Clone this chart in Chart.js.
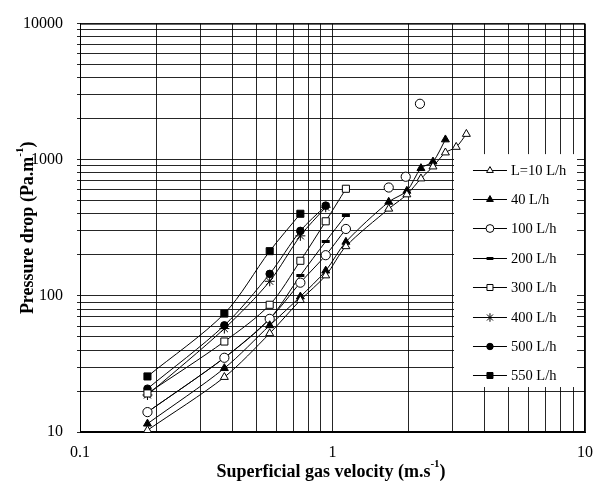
<!DOCTYPE html>
<html>
<head>
<meta charset="utf-8">
<script src="https://cdn.jsdelivr.net/npm/chart.js@4.4.1/dist/chart.umd.min.js"></script>
<style>
  html, body { margin: 0; padding: 0; background: #fff; }
  #wrap { width: 604px; height: 485px; }
</style>
</head>
<body>
<div id="wrap"><canvas id="dpChart" width="604" height="485"></canvas></div>
<script>
// Superficial gas velocity (m/s) and pressure drop (Pa/m) per liquid flow rate
const vel10 = [0.185, 0.373, 0.564, 0.746, 0.94, 1.13, 1.67, 1.97, 2.24, 2.5, 2.8, 3.09, 3.39];
const dp10  = [10.3, 25.3, 53, 93, 141, 231, 436, 555, 727, 890, 1128, 1240, 1544];

const vel40 = [0.185, 0.373, 0.564, 0.746, 0.94, 1.13, 1.67, 1.97, 2.24, 2.5, 2.8];
const dp40  = [11.5, 29.4, 60.7, 98.7, 153, 249, 490, 590, 866, 968, 1407];

// last three 100 L/h points are not joined by a line (null = gap)
const vel100 = [0.185, 0.373, 0.564, 0.746, 0.94, 1.13, 1.4, 1.67, 1.8, 1.95, 2.1, 2.22];
const dp100  = [14.0, 35.1, 67.8, 125, 199, 310, null, 625, null, 750, null, 2576];

const vel200 = [0.185, 0.373, 0.564, 0.746, 0.94, 1.13];
const dp200  = [14.0, 35.1, 67.8, 141, 251, 390];

const vel300 = [0.185, 0.373, 0.564, 0.746, 0.94, 1.13];
const dp300  = [19.2, 46.2, 86, 181, 353, 612];

const vel400 = [0.185, 0.373, 0.564, 0.746, 0.94];
const dp400  = [18.7, 57.5, 128, 276, 448];

const vel500 = [0.185, 0.373, 0.564, 0.746, 0.94];
const dp500  = [20.8, 60.7, 145, 300, 460];

const vel550 = [0.185, 0.373, 0.564, 0.746];
const dp550  = [25.6, 74.1, 213, 401];

const legendLabels = ['L=10 L/h', '40 L/h', '100 L/h', '200 L/h', '300 L/h', '400 L/h', '500 L/h', '550 L/h'];
const xTickLabels = [0.1, 1, 10];
const yTickLabels = [10, 100, 1000, 10000];

const SERIF = '"Liberation Serif", "Times New Roman", serif';

function pts(xs, ys) {
    return xs.map((x, i) => ({ x: x, y: ys[i] }));
}

// marker look for each series
const markers = [
    { style: 'triangle', radius: 4.6, fill: '#fff', width: 1 },
    { style: 'triangle', radius: 4.6, fill: '#000', width: 1 },
    { style: 'circle', radius: 4.6, fill: '#fff', width: 1 },
    { style: 'line', radius: 4, fill: '#000', width: 3 },
    { style: 'rect', radius: 5, fill: '#fff', width: 1 },
    { style: 'star', radius: 5, fill: '#000', width: 1 },
    { style: 'circle', radius: 3.8, fill: '#000', width: 1 },
    { style: 'rect', radius: 5, fill: '#000', width: 1 }
];
// the legend uses slightly smaller symbols
const legendScale = 0.85;

const seriesData = [
    pts(vel10, dp10), pts(vel40, dp40), pts(vel100, dp100), pts(vel200, dp200),
    pts(vel300, dp300), pts(vel400, dp400), pts(vel500, dp500), pts(vel550, dp550)
];

const datasets = seriesData.map((d, i) => ({
    label: legendLabels[i],
    data: d,
    borderColor: '#000',
    borderWidth: 1,
    tension: 0.3,
    spanGaps: false,
    pointStyle: markers[i].style,
    pointRadius: markers[i].radius,
    pointBackgroundColor: markers[i].fill,
    pointBorderColor: '#000',
    pointBorderWidth: markers[i].width
}));

// 1..9 x every decade, so the grid shows all minor lines
function decadeTicks(min, max) {
    const out = [];
    for (let d = min; d < max; d *= 10) {
        for (let k = 1; k < 10; k++) out.push(+(k * d).toPrecision(3));
    }
    out.push(max);
    return out;
}

function drawSupText(ctx, main, sup, tail, cx, cy, size) {
    const big = 'bold ' + size + 'px ' + SERIF;
    const small = 'bold ' + Math.round(size * 0.62) + 'px ' + SERIF;
    ctx.font = big;
    const w1 = ctx.measureText(main).width;
    const w3 = ctx.measureText(tail).width;
    ctx.font = small;
    const w2 = ctx.measureText(sup).width;
    let x = cx - (w1 + w2 + w3) / 2;
    ctx.textAlign = 'left';
    ctx.textBaseline = 'middle';
    ctx.font = big;
    ctx.fillText(main, x, cy);
    x += w1;
    ctx.font = small;
    ctx.fillText(sup, x, cy - size * 0.42);
    x += w2;
    ctx.font = big;
    ctx.fillText(tail, x, cy);
}

// white legend box sitting on top of the grid, under the data
const legendBoxPlugin = {
    id: 'legendBox',
    beforeDatasetsDraw(chart) {
        const { ctx, chartArea: { left, right, top, bottom } } = chart;
        const xs = chart.scales.x;
        const ys = chart.scales.y;
        const bx = xs.getPixelForValue(3) + 1;
        const by = ys.getPixelForValue(1100);
        const bb = ys.getPixelForValue(20) - 4;
        const br = right - 8;
        ctx.save();
        ctx.fillStyle = '#fff';
        ctx.fillRect(bx, by, br - bx, bb - by);

        // plot frame
        ctx.strokeStyle = '#000';
        ctx.lineWidth = 1;
        ctx.strokeRect(left + 0.5, top + 0.5, right - left - 1, bottom - top - 1);

        const rowH = 29.4;
        const y0 = by + 15.5;
        const lx = bx + 19;
        chart.data.datasets.forEach((ds, i) => {
            const y = Math.round(y0 + i * rowH) + 0.5;
            ctx.strokeStyle = '#000';
            ctx.lineWidth = 1;
            ctx.beginPath();
            ctx.moveTo(lx, y);
            ctx.lineTo(lx + 34, y);
            ctx.stroke();
            ctx.fillStyle = markers[i].fill;
            ctx.lineWidth = markers[i].width;
            Chart.helpers.drawPoint(ctx, {
                pointStyle: markers[i].style,
                radius: markers[i].radius * legendScale,
                borderWidth: markers[i].width,
                rotation: 0
            }, lx + 17, y);
            ctx.fillStyle = '#000';
            ctx.font = '14.5px ' + SERIF;
            ctx.textAlign = 'left';
            ctx.textBaseline = 'middle';
            ctx.fillText(ds.label, lx + 38, y + 1);
        });
        ctx.restore();
    },
    afterDraw(chart) {
        const { ctx, chartArea: { left, right, top, bottom } } = chart;
        ctx.save();
        ctx.fillStyle = '#000';
        drawSupText(ctx, 'Superficial gas velocity (m.s', '-1', ')', 331, 472, 18);
        ctx.translate(28, (top + bottom) / 2);
        ctx.rotate(-Math.PI / 2);
        drawSupText(ctx, 'Pressure drop (Pa.m', '-1', ')', 0, 0, 18);
        ctx.restore();
    }
};

const chartConfig = {
    type: 'line',
    data: { datasets: datasets },
    options: {
        responsive: false,
        animation: false,
        events: [],
        layout: { padding: { top: 15, right: 19, left: 0, bottom: 0 } },
        plugins: {
            legend: { display: false },
            tooltip: { enabled: false }
        },
        scales: {
            x: {
                type: 'logarithmic',
                min: 0.1,
                max: 10,
                afterBuildTicks(scale) {
                    scale.ticks = decadeTicks(0.1, 10).map(v => ({ value: v }));
                },
                afterFit(scale) { scale.height = 53; },
                grid: { color: 'rgba(0,0,0,0.85)', lineWidth: 1, drawTicks: false },
                border: { color: '#000' },
                ticks: {
                    autoSkip: false,
                    maxRotation: 0,
                    padding: 11,
                    color: '#000',
                    font: { family: SERIF, size: 16 },
                    callback: v => xTickLabels.includes(v) ? String(v) : ''
                }
            },
            y: {
                type: 'logarithmic',
                min: 10,
                max: 10000,
                afterBuildTicks(scale) {
                    scale.ticks = decadeTicks(10, 10000).map(v => ({ value: v }));
                },
                afterFit(scale) { scale.width = 80; },
                grid: { color: 'rgba(0,0,0,0.85)', lineWidth: 1, tickLength: 3 },
                border: { color: '#000' },
                ticks: {
                    autoSkip: false,
                    padding: 14,
                    color: '#000',
                    font: { family: SERIF, size: 16 },
                    callback: v => yTickLabels.includes(v) ? String(v) : ''
                }
            }
        }
    },
    plugins: [legendBoxPlugin]
};

const dpChart = new Chart(document.getElementById('dpChart'), chartConfig);
</script>
</body>
</html>
